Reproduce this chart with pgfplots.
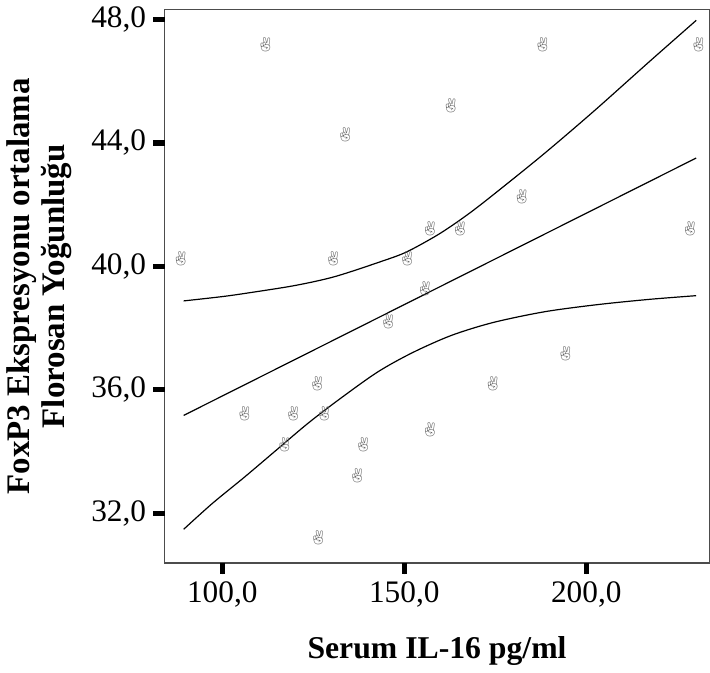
\documentclass[border=0pt]{standalone}
\usepackage{fontspec}
\setmainfont{Liberation Serif}
\newfontfamily\emoji{Noto Emoji}
\usepackage{pgfplots}
\pgfplotsset{compat=1.18}
\newcommand{\obs}{\textcolor{gray!80!black}{\emoji\fontsize{7}{7}\selectfont ✌}}
\begin{document}
\begin{tikzpicture}
\begin{axis}[
    scale only axis,
    width=273pt, height=277.4pt,
    xmin=84.2, xmax=233.8,
    ymin=30.39, ymax=48.32,
    xtick={100,150,200},
    ytick={32,36,40,44,48},
    xtick pos=bottom, ytick pos=left,
    tick align=outside,
    major tick length=5.8pt,
    tick style={black},
    axis line style={gray!60!black, line width=0.7pt},
    /pgf/number format/.cd, use comma, fixed, fixed zerofill, precision=1, assume math mode=true,
    /pgfplots/.cd,
    tick label style={font=\fontsize{15.7}{18}\selectfont},
    xlabel={Serum IL-16 pg/ml},
    xlabel style={font=\fontsize{15.9}{18}\selectfont\bfseries, yshift=-8pt},
    ylabel={FoxP3 Ekspresyonu ortalama\\Florosan Yoğunluğu},
    ylabel style={font=\fontsize{16.5}{17.5}\selectfont\bfseries, align=center, yshift=3pt},
    clip=false,
]
% thick tick marks as in the original
\draw[black, line width=2.6pt] (axis cs:100,30.39) -- ++(0pt,-5.8pt);
\draw[black, line width=2.6pt] (axis cs:150,30.39) -- ++(0pt,-5.8pt);
\draw[black, line width=2.6pt] (axis cs:200,30.39) -- ++(0pt,-5.8pt);
\draw[black, line width=2.6pt] (axis cs:84.2,32) -- ++(-5.8pt,0pt);
\draw[black, line width=2.6pt] (axis cs:84.2,36) -- ++(-5.8pt,0pt);
\draw[black, line width=2.6pt] (axis cs:84.2,40) -- ++(-5.8pt,0pt);
\draw[black, line width=2.6pt] (axis cs:84.2,44) -- ++(-5.8pt,0pt);
\draw[black, line width=2.6pt] (axis cs:84.2,48) -- ++(-5.8pt,0pt);
% upper confidence band
\addplot[black, line width=0.6pt, smooth] coordinates {
(89.4,38.88) (100,39.02) (107.2,39.14) (120,39.38) (131,39.67) (144.2,40.18)
(150.7,40.47) (158.9,41.0) (165.3,41.5) (172.1,42.1) (187.7,43.58)
(202,45.02) (217.3,46.63) (230.2,47.97)};
% fitted line
\addplot[black, line width=0.6pt] coordinates {
(89.4,35.17) (154.9,39.05) (230.2,43.51)};
% lower confidence band
\addplot[black, line width=0.6pt, smooth] coordinates {
(89.4,31.48) (97.3,32.32) (106.1,33.17) (114.9,34.05) (123.4,34.9)
(131.9,35.67) (142.6,36.57) (152.2,37.2) (162.9,37.76) (174.4,38.18)
(188.6,38.53) (203.1,38.76) (217.3,38.93) (230.2,39.05)};
% observations
\addplot[only marks, gray, mark=text, text mark={\obs}]
coordinates {
(111.9,47.19) (188.0,47.19) (230.8,47.19)
(162.8,45.22) (133.8,44.25) (182.3,42.25)
(157.1,41.21) (165.3,41.21) (228.5,41.21)
(88.6,40.24) (130.5,40.24) (150.8,40.24)
(155.7,39.27) (145.6,38.20) (194.3,37.17)
(126.1,36.20) (174.3,36.20)
(106.1,35.23) (119.5,35.23) (128.0,35.23)
(157.1,34.70) (117.1,34.23) (138.7,34.23)
(137.1,33.23) (126.4,31.22)};
\end{axis}
\end{tikzpicture}
\end{document}
